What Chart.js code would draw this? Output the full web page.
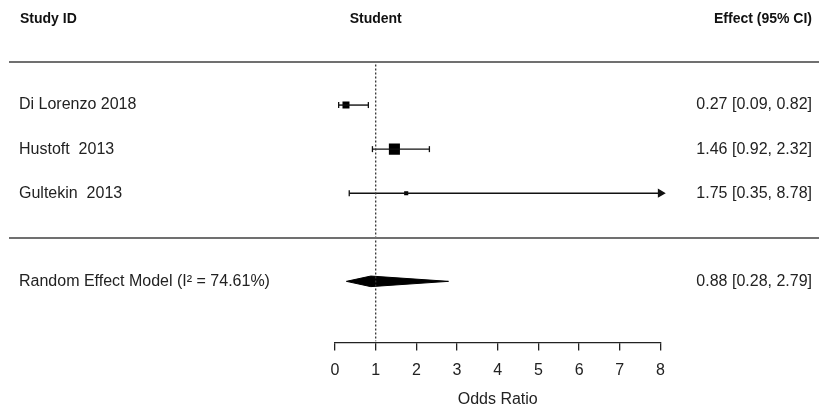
<!DOCTYPE html>
<html>
<head>
<meta charset="utf-8">
<script src="https://cdn.jsdelivr.net/npm/chart.js@4"></script>
<style>
  body { margin: 0; background: #fff; }
  #wrap { width: 819px; height: 414px; }
</style>
</head>
<body>
<div id="wrap"><canvas id="js--forest"></canvas></div>
<script>
// study data
const studies = ["Di Lorenzo 2018", "Hustoft  2013", "Gultekin  2013"];
const estimates = [0.27, 1.46, 1.75];
const lower = [0.09, 0.92, 0.35];
const upper = [0.82, 2.32, 8.78];
const weights = [26, 65, 9];

// pooled result
const pooledLabel = "Random Effect Model (I\u00B2 = 74.61%)";
const pooled = [0.88, 0.28, 2.79];

const xTicks = [0, 1, 2, 3, 4, 5, 6, 7, 8];
const xMin = 0, xMax = 8;

const FONT = "'Liberation Sans', Arial, sans-serif";

function fmt(v){
    return v.toFixed(2);
}

const datasets = [];

// dotted line at OR = 1
datasets.push({
    data: [{x: 1, y: 0.08}, {x: 1, y: 6.36}],
    showLine: true,
    borderColor: "#333",
    borderWidth: 1.3,
    borderDash: [2, 2],
    pointRadius: 0
});

// confidence intervals (arrow when the CI runs past the axis)
for(let i = 0; i < studies.length; i++){
    let hi = Math.min(upper[i], xMax);
    let clipped = upper[i] > xMax;
    datasets.push({
        data: [{x: lower[i], y: i + 1}, {x: hi, y: i + 1}],
        showLine: true,
        clip: false,
        borderColor: "#111",
        borderWidth: 1.4,
        pointStyle: ["line", clipped ? "triangle" : "line"],
        rotation: 90,
        pointRadius: [3, clipped ? 4 : 3],
        pointBorderWidth: 1.3,
        pointBorderColor: "#111",
        pointBackgroundColor: "#111"
    });
}

// boxes
datasets.push({
    data: estimates.map(function(e, i){ return {x: e, y: i + 1}; }),
    pointStyle: "rect",
    pointRadius: weights.map(function(w){ return Math.sqrt(w) * 0.97; }),
    pointBackgroundColor: "#000",
    pointBorderColor: "#000",
    pointBorderWidth: 0
});

// diamond for pooled estimate
const dy = 0.12;
const row = 5;
datasets.push({
    data: [
        {x: pooled[1], y: row},
        {x: pooled[0], y: row - dy},
        {x: pooled[2], y: row},
        {x: pooled[0], y: row + dy},
        {x: pooled[1], y: row}
    ],
    showLine: true,
    fill: "shape",
    backgroundColor: "#000",
    borderColor: "#000",
    borderWidth: 1,
    pointRadius: 0,
    tension: 0
});

const textPlugin = {
    id: "forestText",
    afterDraw: function(chart){
        const ctx = chart.ctx;
        const ys = chart.scales.y;
        const xs = chart.scales.x;
        ctx.save();

        // separators
        ctx.strokeStyle = "#707070";
        ctx.lineWidth = 2;
        [0, 4].forEach(function(v){
            let py = Math.round(ys.getPixelForValue(v)) + 1;
            ctx.beginPath();
            ctx.moveTo(9, py);
            ctx.lineTo(819, py);
            ctx.stroke();
        });

        // headers
        ctx.fillStyle = "#111";
        ctx.textBaseline = "middle";
        ctx.font = "bold 14px " + FONT;
        ctx.textAlign = "left";
        ctx.fillText("Study ID", 20, 19);
        ctx.textAlign = "center";
        ctx.fillText("Student", xs.getPixelForValue(1), 19);
        ctx.textAlign = "right";
        ctx.fillText("Effect (95% CI)", 812, 19);

        // rows
        ctx.font = "16px " + FONT;
        ctx.fillStyle = "#222";
        for(let i = 0; i < studies.length; i++){
            let py = ys.getPixelForValue(i + 1);
            ctx.textAlign = "left";
            ctx.fillText(studies[i], 19, py);
            ctx.textAlign = "right";
            ctx.fillText(fmt(estimates[i]) + " [" + fmt(lower[i]) + ", " + fmt(upper[i]) + "]", 812, py);
        }
        let py = ys.getPixelForValue(row);
        ctx.textAlign = "left";
        ctx.fillText(pooledLabel, 19, py);
        ctx.textAlign = "right";
        ctx.fillText(fmt(pooled[0]) + " [" + fmt(pooled[1]) + ", " + fmt(pooled[2]) + "]", 812, py);

        ctx.restore();
    }
};

const forest = new Chart(document.getElementById("js--forest"), {
    type: "scatter",
    data: { datasets: datasets },
    options: {
        responsive: true,
        maintainAspectRatio: false,
        animation: false,
        layout: { padding: { left: 335, right: 158.5, top: 61, bottom: 1 } },
        plugins: {
            legend: { display: false },
            tooltip: { enabled: false }
        },
        scales: {
            x: {
                type: "linear",
                min: xMin,
                max: xMax,
                afterBuildTicks: function(axis){
                    axis.ticks = xTicks.map(function(v){ return {value: v}; });
                },
                grid: { drawOnChartArea: false, drawTicks: true, tickLength: 8, color: "#222", lineWidth: 1.3 },
                border: { color: "#222", width: 1.3 },
                ticks: { color: "#222", padding: 10, font: { size: 16, family: FONT } },
                title: { display: true, text: "Odds Ratio", color: "#222", padding: { top: 0, bottom: 4 }, font: { size: 16, family: FONT } }
            },
            y: {
                type: "linear",
                display: false,
                reverse: true,
                min: 0,
                max: 6.39
            }
        }
    },
    plugins: [textPlugin]
});
</script>
</body>
</html>
